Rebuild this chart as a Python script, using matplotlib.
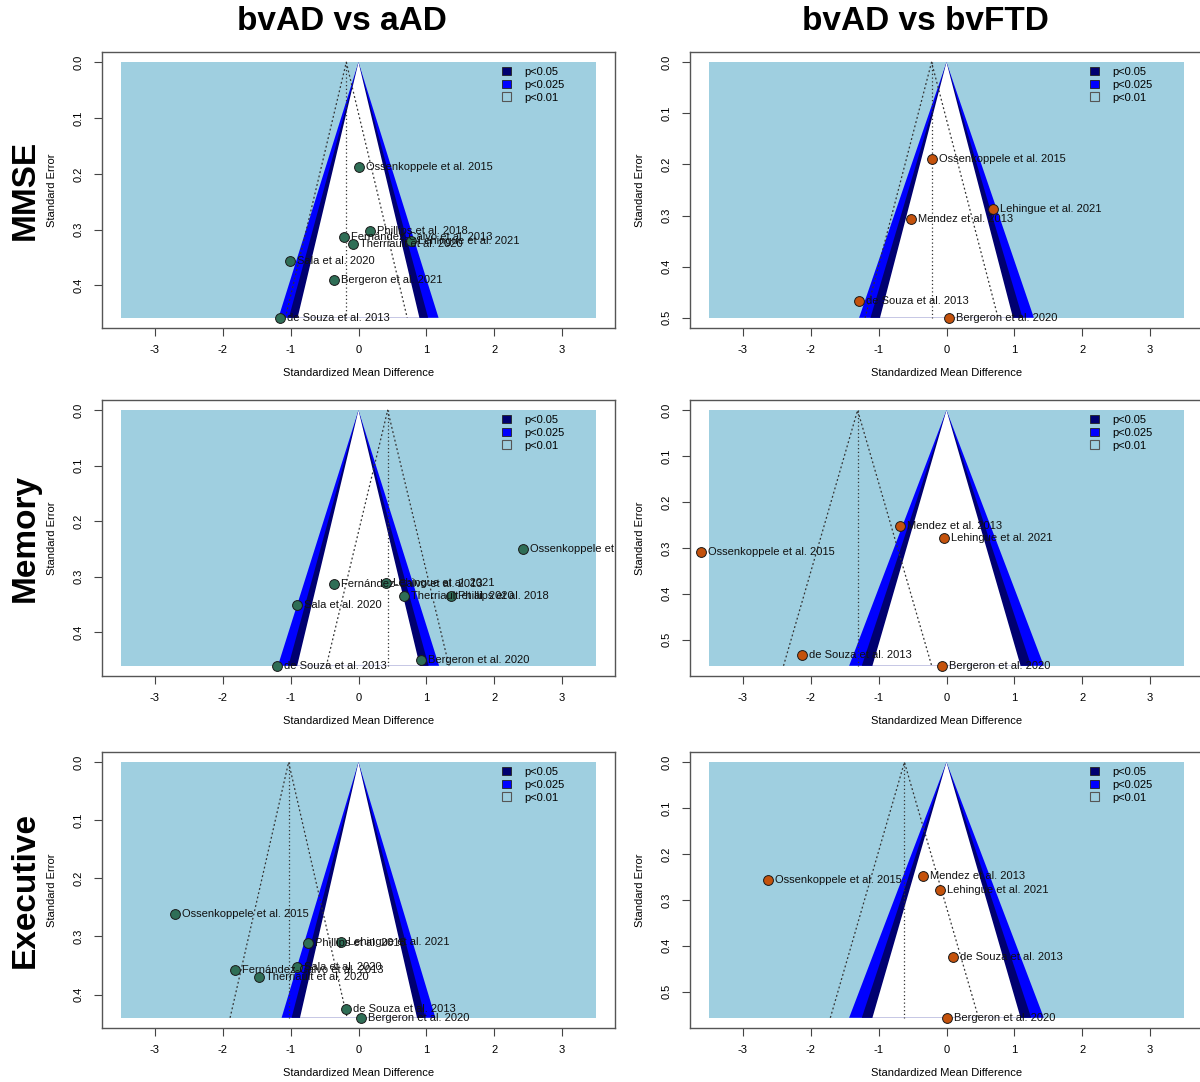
import numpy as np
import matplotlib.pyplot as plt
import matplotlib.transforms as mtransforms
from matplotlib.patches import Patch

plt.rcParams['font.family'] = ['Liberation Sans', 'DejaVu Sans']
plt.rcParams['axes.unicode_minus'] = False

# MMSE - bvAD vs aAD
mmse_aad_study = ["Ossenkoppele et al. 2015", "Phillips et al. 2018", "Fernández-Calvo et al. 2013",
                  "Therriault et al. 2020", "Lehingue et al. 2021", "Sala et al. 2020",
                  "Bergeron et al. 2021", "de Souza et al. 2013"]
mmse_aad_smd = [0.00, 0.17, -0.21, -0.08, 0.78, -1.01, -0.36, -1.15]
mmse_aad_se = [0.188, 0.302, 0.314, 0.326, 0.321, 0.356, 0.390, 0.458]
mmse_aad_est = -0.18

# MMSE - bvAD vs bvFTD
mmse_ftd_study = ["Ossenkoppele et al. 2015", "Lehingue et al. 2021", "Mendez et al. 2013",
                  "de Souza et al. 2013", "Bergeron et al. 2020"]
mmse_ftd_smd = [-0.22, 0.69, -0.52, -1.29, 0.04]
mmse_ftd_se = [0.189, 0.287, 0.307, 0.467, 0.500]
mmse_ftd_est = -0.22

# Memory - bvAD vs aAD
mem_aad_study = ["Ossenkoppele et al. 2015", "Fernández-Calvo et al. 2013", "Lehingue et al. 2021",
                 "Therriault et al. 2020", "Phillips et al. 2018", "Sala et al. 2020",
                 "Bergeron et al. 2020", "de Souza et al. 2013"]
mem_aad_smd = [2.43, -0.36, 0.41, 0.67, 1.36, -0.90, 0.92, -1.20]
mem_aad_se = [0.250, 0.314, 0.312, 0.336, 0.335, 0.352, 0.450, 0.461]
mem_aad_est = 0.43

# Memory - bvAD vs bvFTD
mem_ftd_study = ["Mendez et al. 2013", "Lehingue et al. 2021", "Ossenkoppele et al. 2015",
                 "de Souza et al. 2013", "Bergeron et al. 2020"]
mem_ftd_smd = [-0.68, -0.04, -3.62, -2.13, -0.06]
mem_ftd_se = [0.252, 0.279, 0.308, 0.533, 0.557]
mem_ftd_est = -1.31

# Executive - bvAD vs aAD
exe_aad_study = ["Ossenkoppele et al. 2015", "Phillips et al. 2018", "Lehingue et al. 2021",
                 "Fernández-Calvo et al. 2013", "Sala et al. 2020", "Therriault et al. 2020",
                 "de Souza et al. 2013", "Bergeron et al. 2020"]
exe_aad_smd = [-2.71, -0.74, -0.26, -1.82, -0.91, -1.47, -0.19, 0.04]
exe_aad_se = [0.262, 0.312, 0.310, 0.357, 0.353, 0.370, 0.425, 0.440]
exe_aad_est = -1.03

# Executive - bvAD vs bvFTD
exe_ftd_study = ["Ossenkoppele et al. 2015", "Mendez et al. 2013", "Lehingue et al. 2021",
                 "de Souza et al. 2013", "Bergeron et al. 2020"]
exe_ftd_smd = [-2.63, -0.34, -0.09, 0.09, 0.01]
exe_ftd_se = [0.257, 0.249, 0.279, 0.425, 0.557]
exe_ftd_est = -0.62

col_titles = ["bvAD vs aAD", "bvAD vs bvFTD"]
row_titles = ["MMSE", "Memory", "Executive"]

LIGHTBLUE = "#9fcfe0"
GREEN = "#2f6e56"
ORANGE = "#c4520c"

fig = plt.figure(figsize=(12, 10.82), dpi=100)
W, H = 1200.0, 1082.0


def funnel(ax, study, smd, se, est, col):
    ymax = max(se)
    ax.fill_between([-3.5, 3.5], 0, ymax, color=LIGHTBLUE, lw=0, zorder=1)
    for z, c in [(2.576, "blue"), (2.241, "#000070"), (1.96, "white")]:
        ax.fill([0, -z * ymax, z * ymax], [0, ymax, ymax], color=c, lw=0, zorder=2)
    ax.plot([est, est], [0, ymax], ls=(0, (1, 2)), color="#333333", lw=0.9, zorder=3)
    ax.plot([est - 1.96 * ymax, est, est + 1.96 * ymax], [ymax, 0, ymax],
            ls=(0, (1.5, 2)), color="#333333", lw=0.9, zorder=3)
    ax.scatter(smd, se, s=50, c=col, edgecolors="#1a1a1a", linewidths=0.7, zorder=5)
    off = mtransforms.offset_copy(ax.transData, fig=fig, x=7, y=0, units="dots")
    for x, y, lab in zip(smd, se, study):
        ax.text(x, y, lab, transform=off, ha="left", va="center", fontsize=8,
                color="#111111", clip_on=True, zorder=6)
    ax.set_xlim(-3.78, 3.78)
    ax.set_ylim(ymax * 1.04, -0.04 * ymax)
    ax.set_xticks([-3, -2, -1, 0, 1, 2, 3])
    ax.set_yticks(np.arange(0, ymax + 1e-9, 0.1))
    ax.set_yticklabels([f"{v:.1f}" for v in np.arange(0, ymax + 1e-9, 0.1)],
                       rotation=90, va="center")
    ax.tick_params(axis="x", direction="out", length=6, width=0.8, color="#444444",
                   labelsize=8, pad=6)
    ax.tick_params(axis="y", direction="out", length=6, width=0.8, color="#444444",
                   labelsize=8, pad=7)
    for sp in ax.spines.values():
        sp.set_color("#555555")
        sp.set_linewidth(1.0)
    ax.set_xlabel("Standardized Mean Difference", fontsize=8)
    ax.set_ylabel("Standard Error", fontsize=8)
    ax.xaxis.set_label_coords(0.5, -(368 - 328) / 276.0)
    ax.yaxis.set_label_coords(-45 / 513.0, 0.5)
    handles = [Patch(facecolor="#000070", edgecolor="#222222", lw=0.6),
               Patch(facecolor="blue", edgecolor="#222222", lw=0.6),
               Patch(facecolor=LIGHTBLUE, edgecolor="#555555", lw=0.8)]
    ax.legend(handles, ["p<0.05", "p<0.025", "p<0.01"], loc="upper left",
              bbox_to_anchor=(0.775, 0.955), frameon=False, fontsize=8,
              handlelength=0.8, handleheight=0.8, handletextpad=1.2,
              labelspacing=0.25, borderaxespad=0, borderpad=0.2)


panels = [
    [(mmse_aad_study, mmse_aad_smd, mmse_aad_se, mmse_aad_est, GREEN),
     (mmse_ftd_study, mmse_ftd_smd, mmse_ftd_se, mmse_ftd_est, ORANGE)],
    [(mem_aad_study, mem_aad_smd, mem_aad_se, mem_aad_est, GREEN),
     (mem_ftd_study, mem_ftd_smd, mem_ftd_se, mem_ftd_est, ORANGE)],
    [(exe_aad_study, exe_aad_smd, exe_aad_se, exe_aad_est, GREEN),
     (exe_ftd_study, exe_ftd_smd, exe_ftd_se, exe_ftd_est, ORANGE)],
]

col_left = [102, 690]
row_top = [52, 400, 752]
ax_w, ax_h = 513, 276

for r in range(3):
    for c in range(2):
        ax = fig.add_axes([col_left[c] / W, 1 - (row_top[r] + ax_h) / H, ax_w / W, ax_h / H])
        funnel(ax, *panels[r][c])
    fig.text(25 / W, 1 - (row_top[r] + ax_h / 2) / H, row_titles[r], rotation=90,
             ha="center", va="center", fontsize=24, fontweight="bold")

fig.text(342 / W, 1 - 22 / H, col_titles[0], ha="center", va="center", fontsize=24, fontweight="bold")
fig.text(925 / W, 1 - 22 / H, col_titles[1], ha="center", va="center", fontsize=24, fontweight="bold")

fig.savefig("out.png", dpi=100)
